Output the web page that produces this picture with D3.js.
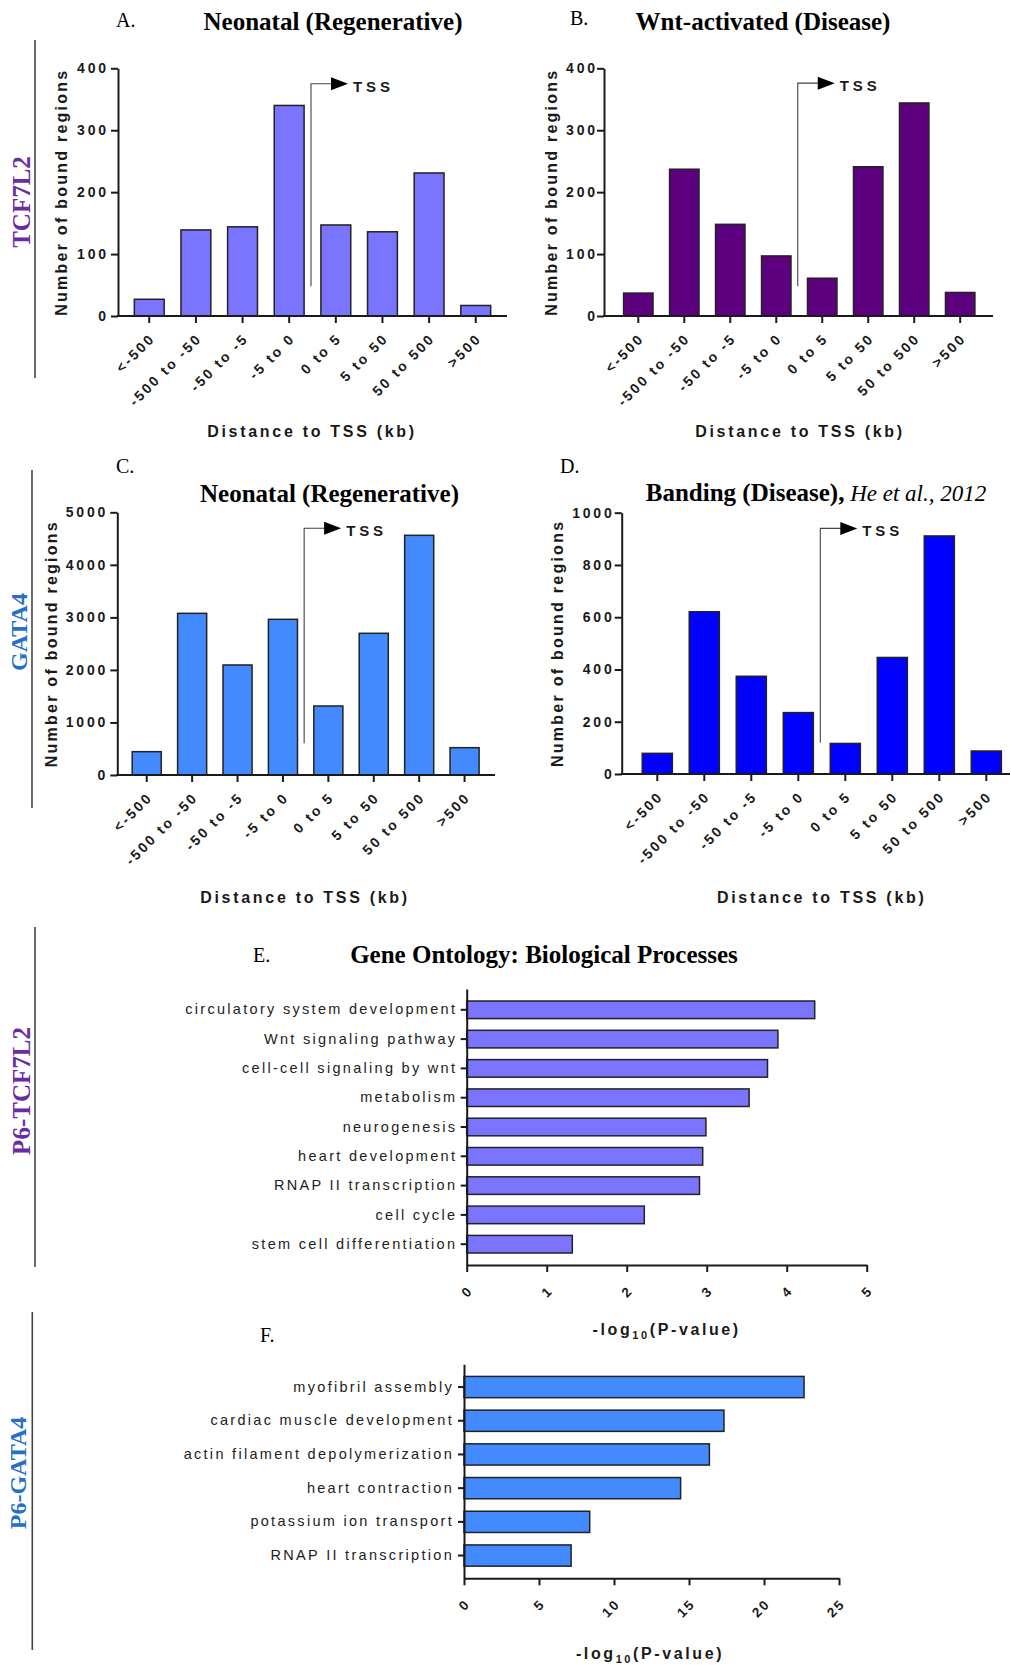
<!DOCTYPE html>
<html><head><meta charset="utf-8">
<script src="https://cdn.jsdelivr.net/npm/d3@7"></script>
<style>
body{margin:0;background:#fff;}
svg{display:block;}
</style></head><body>
<svg id="fig" width="1011" height="1665"></svg>
<script>
// ---------------- DATA ----------------
const distCategories = ["<-500", "-500 to -50", "-50 to -5", "-5 to 0", "0 to 5", "5 to 50", "50 to 500", ">500"];
const tcfNeonatal = [27, 139, 144, 340, 147, 136, 231, 17];
const tcfWnt = [37, 237, 148, 97, 61, 241, 344, 38];
const gataNeonatal = [444, 3077, 2094, 2963, 1313, 2697, 4562, 520];
const gataBanding = [79, 621, 374, 235, 117, 446, 911, 88];
const ticksTcf = [0, 100, 200, 300, 400];
const ticksGataNeo = [0, 1000, 2000, 3000, 4000, 5000];
const ticksGataBand = [0, 200, 400, 600, 800, 1000];

const goTcfTerms = ["circulatory system development", "Wnt signaling pathway", "cell-cell signaling by wnt", "metabolism", "neurogenesis", "heart development", "RNAP II transcription", "cell cycle", "stem cell differentiation"];
const goTcfValues = [4.35, 3.89, 3.76, 3.53, 2.99, 2.95, 2.91, 2.22, 1.32];
const goTcfTicks = [0, 1, 2, 3, 4, 5];
const goGataTerms = ["myofibril assembly", "cardiac muscle development", "actin filament depolymerization", "heart contraction", "potassium ion transport", "RNAP II transcription"];
const goGataValues = [22.67, 17.33, 16.36, 14.44, 8.38, 7.14];
const goGataTicks = [0, 5, 10, 15, 20, 25];

// ---------------- STYLE ----------------
const SANS = "'Liberation Sans', Arial, Helvetica, sans-serif";
const SERIF = "'Liberation Serif', 'Times New Roman', serif";
const C_PERI = "#7A74FF", C_PURPLE = "#5D007F", C_BLUE = "#448AFF", C_PURE = "#0000FF";
const C_LBL_PURPLE = "#6B2BA3", C_LBL_BLUE = "#2670C8";
const INK = "#1a1a1a";

const svg = d3.select("#fig");

function styleAxis(sel, fontSize, ls, weight) {
  sel.attr("font-family", SANS).attr("font-size", fontSize).attr("font-weight", weight);
  sel.selectAll("path.domain").attr("stroke", INK).attr("stroke-width", 2);
  sel.selectAll(".tick line").attr("stroke", INK).attr("stroke-width", 2);
  sel.selectAll(".tick text").attr("fill", INK).attr("letter-spacing", ls);
}

function drawDistPanel(cfg) {
  const g = svg.append("g");
  const x = d3.scaleBand().domain(distCategories).range(cfg.band).paddingInner(0.36).paddingOuter(0.35);
  const y = d3.scaleLinear().domain([0, cfg.yMax]).range([cfg.y0, cfg.yTop]);

  g.selectAll("rect.bar").data(cfg.values).join("rect").attr("class", "bar")
    .attr("x", (d, i) => x(distCategories[i])).attr("width", x.bandwidth())
    .attr("y", d => y(d)).attr("height", d => y(0) - y(d))
    .attr("fill", cfg.color).attr("stroke", "#222").attr("stroke-width", 1.5);

  // y axis
  const lsY = 2.8;
  const ya = g.append("g").attr("transform", `translate(${cfg.axisX},0)`)
    .call(d3.axisLeft(y).tickValues(cfg.yTicks).tickFormat(d3.format("d")).tickSize(7).tickSizeOuter(0).tickPadding(cfg.gap - 7 - lsY));
  styleAxis(ya, 14, lsY, "bold");

  // x axis
  const lsX = 2.4;
  const xa = g.append("g").attr("transform", `translate(0,${cfg.y0})`)
    .call(d3.axisBottom(x).tickSize(7).tickSizeOuter(0));
  styleAxis(xa, 14, lsX, "bold");
  xa.select("path.domain").remove();
  xa.selectAll(".tick text").attr("y", null).attr("dy", null).attr("x", null)
    .attr("text-anchor", "end")
    .attr("transform", `translate(${5 + lsX * 0.707},${25 - lsX * 0.707}) rotate(-45)`);
  g.append("line").attr("x1", cfg.axisX - 1).attr("x2", cfg.endX).attr("y1", cfg.y0).attr("y2", cfg.y0)
    .attr("stroke", INK).attr("stroke-width", 2);

  // TSS arrow
  const tx = (x(distCategories[3]) + x(distCategories[4]) + x.bandwidth()) / 2 - 1.5;
  const yb = y(cfg.tss[0]), yt = y(cfg.tss[1]);
  g.append("path").attr("d", `M${tx},${yb}V${yt}H${tx + 21}`).attr("fill", "none").attr("stroke", "#444").attr("stroke-width", 1.1);
  g.append("path").attr("d", `M${tx + 20},${yt - 6.5}L${tx + 37},${yt}L${tx + 20},${yt + 6.5}Z`).attr("fill", "#000");
  g.append("text").attr("x", tx + 42).attr("y", yt + 8).text("TSS")
    .attr("font-family", SANS).attr("font-weight", "bold").attr("font-size", 15).attr("letter-spacing", 3.9).attr("fill", INK);

  // axis titles
  g.append("text").attr("transform", `translate(${cfg.yTitleX},${(cfg.y0 + cfg.yTop) / 2}) rotate(-90)`)
    .attr("text-anchor", "middle").text("Number of bound regions")
    .attr("font-family", SANS).attr("font-weight", "bold").attr("font-size", 16).attr("letter-spacing", 2.25).attr("fill", INK);
  g.append("text").attr("x", cfg.xTitle[0]).attr("y", cfg.xTitle[1]).attr("text-anchor", "middle").text("Distance to TSS (kb)")
    .attr("font-family", SANS).attr("font-weight", "bold").attr("font-size", 16).attr("letter-spacing", 2.7).attr("fill", INK);

  // panel letter and title
  g.append("text").attr("x", cfg.letter[0]).attr("y", cfg.letter[1]).text(cfg.letter[2])
    .attr("font-family", SERIF).attr("font-size", 20).attr("fill", "#000");
  const t = g.append("text").attr("x", cfg.title[0]).attr("y", cfg.title[1]).attr("text-anchor", "middle")
    .attr("font-family", SERIF).attr("font-size", 25).attr("fill", "#000");
  t.append("tspan").attr("font-weight", "bold").text(cfg.title[2]);
  if (cfg.title[3]) t.append("tspan").attr("font-style", "italic").attr("font-size", 23).text(cfg.title[3]);
}

function drawGoPanel(cfg) {
  const g = svg.append("g");
  const x = d3.scaleLinear().domain([0, cfg.ticks[cfg.ticks.length - 1]]).range([cfg.x0, cfg.x1]);
  const y = d3.scaleBand().domain(cfg.terms).range([cfg.yTop, cfg.yBottom]).paddingInner(cfg.pi).paddingOuter(cfg.po);

  g.selectAll("rect.bar").data(cfg.values).join("rect").attr("class", "bar")
    .attr("x", x(0)).attr("y", (d, i) => y(cfg.terms[i]))
    .attr("width", d => x(d) - x(0)).attr("height", y.bandwidth())
    .attr("fill", cfg.color).attr("stroke", "#222").attr("stroke-width", 1.5);

  const lsL = 2.3;
  const ya = g.append("g").attr("transform", `translate(${cfg.x0},0)`)
    .call(d3.axisLeft(y).tickSize(6).tickSizeOuter(0).tickPadding(cfg.labelGap - 6 - lsL));
  styleAxis(ya, 14.5, lsL, "normal");
  ya.selectAll(".tick text").attr("fill", "#222");

  const lsX = 2;
  const xa = g.append("g").attr("transform", `translate(0,${cfg.yBottom})`)
    .call(d3.axisBottom(x).tickValues(cfg.ticks).tickFormat(d3.format("d")).tickSize(7).tickSizeOuter(0));
  styleAxis(xa, 13.5, lsX, "bold");
  xa.selectAll(".tick text").attr("y", null).attr("dy", null).attr("x", null)
    .attr("text-anchor", "end")
    .attr("transform", `translate(${5 + lsX * 0.707},${28 - lsX * 0.707}) rotate(-45)`);

  // x-axis title with subscript
  const tt = g.append("text").attr("x", cfg.xTitle[0]).attr("y", cfg.xTitle[1]).attr("text-anchor", "middle")
    .attr("font-family", SANS).attr("font-weight", "bold").attr("font-size", 16).attr("letter-spacing", 2.6).attr("fill", INK);
  tt.append("tspan").text("-log");
  tt.append("tspan").attr("font-size", 11).attr("dy", 4).text("10");
  tt.append("tspan").attr("dy", -4).text("(P-value)");

  g.append("text").attr("x", cfg.letter[0]).attr("y", cfg.letter[1]).text(cfg.letter[2])
    .attr("font-family", SERIF).attr("font-size", 20).attr("fill", "#000");
  if (cfg.title) g.append("text").attr("x", cfg.title[0]).attr("y", cfg.title[1]).attr("text-anchor", "middle")
    .attr("font-family", SERIF).attr("font-weight", "bold").attr("font-size", 25).attr("fill", "#000").text(cfg.title[2]);
}

// ---------------- PANELS ----------------
drawDistPanel({ values: tcfNeonatal, color: C_PERI, band: [118, 507], axisX: 118, endX: 507,
  y0: 316, yTop: 68.3, yMax: 400, yTicks: ticksTcf, gap: 12, tss: [48, 375], yTitleX: 66.5,
  xTitle: [312, 437], letter: [116, 27, "A."], title: [333, 30, "Neonatal (Regenerative)"] });
drawDistPanel({ values: tcfWnt, color: C_PURPLE, band: [607.5, 991], axisX: 604, endX: 993,
  y0: 316, yTop: 68.3, yMax: 400, yTicks: ticksTcf, gap: 9, tss: [48, 376], yTitleX: 556.7,
  xTitle: [800, 437], letter: [570, 25, "B."], title: [763, 30, "Wnt-activated (Disease)"] });
drawDistPanel({ values: gataNeonatal, color: C_BLUE, band: [116.3, 495], axisX: 117.3, endX: 495,
  y0: 775, yTop: 512.3, yMax: 5000, yTicks: ticksGataNeo, gap: 12, tss: [603, 4695], yTitleX: 56.7,
  xTitle: [305, 903], letter: [116, 473, "C."], title: [329.5, 501.7, "Neonatal (Regenerative)"] });
drawDistPanel({ values: gataBanding, color: C_PURE, band: [625.8, 1017.8], axisX: 621.7, endX: 1010,
  y0: 774, yTop: 512.7, yMax: 1000, yTicks: ticksGataBand, gap: 10, tss: [120, 940], yTitleX: 563,
  xTitle: [821.7, 903], letter: [560, 473, "D."], title: [816, 500.7, "Banding (Disease),", " He et al., 2012"] });

drawGoPanel({ terms: goTcfTerms, values: goTcfValues, ticks: goTcfTicks, color: C_PERI,
  x0: 466.7, x1: 866.7, yTop: 989, yBottom: 1265, pi: 0.4, po: 0.41, labelGap: 11.7,
  xTitle: [666.7, 1335], letter: [253, 962, "E."], title: [544, 963, "Gene Ontology: Biological Processes"] });
drawGoPanel({ terms: goGataTerms, values: goGataValues, ticks: goGataTicks, color: C_BLUE,
  x0: 464, x1: 839, yTop: 1364.3, yBottom: 1578.3, pi: 0.37, po: 0.36, labelGap: 12.3,
  xTitle: [650, 1659], letter: [260, 1342, "F."] });

// ---------------- SIDE LABELS ----------------
const sides = [
  { text: "TCF7L2", x: 30, cy: 202, color: C_LBL_PURPLE, size: 25, line: [35, 40, 378] },
  { text: "GATA4", x: 26.7, cy: 632, color: C_LBL_BLUE, size: 24, line: [32, 470, 808] },
  { text: "P6-TCF7L2", x: 30, cy: 1091, color: C_LBL_PURPLE, size: 25, line: [35, 927, 1267] },
  { text: "P6-GATA4", x: 26, cy: 1473, color: C_LBL_BLUE, size: 24, line: [32.3, 1312, 1650] }
];
sides.forEach(s => {
  svg.append("line").attr("x1", s.line[0]).attr("x2", s.line[0]).attr("y1", s.line[1]).attr("y2", s.line[2])
    .attr("stroke", "#444").attr("stroke-width", 1.6);
  svg.append("text").attr("transform", `translate(${s.x},${s.cy}) rotate(-90)`).attr("text-anchor", "middle")
    .attr("font-family", SERIF).attr("font-weight", "bold").attr("font-size", s.size).attr("fill", s.color).text(s.text);
});
</script>
</body></html>
